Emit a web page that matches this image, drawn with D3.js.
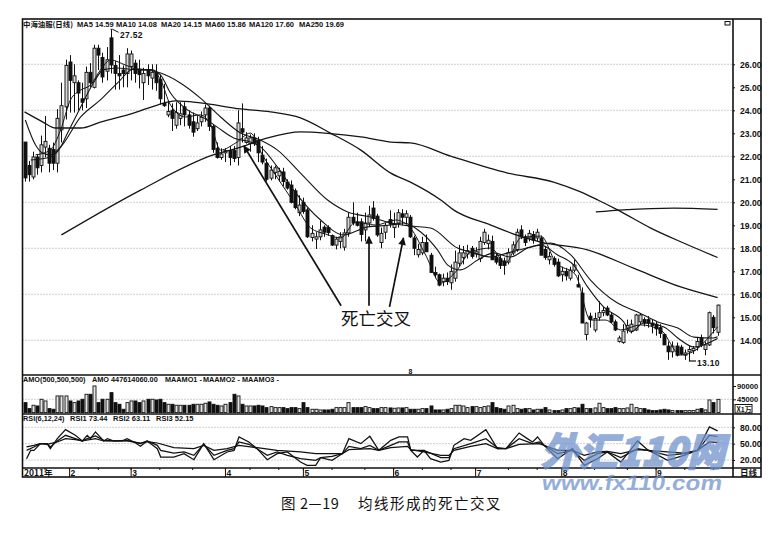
<!DOCTYPE html>
<html><head><meta charset="utf-8">
<script src="https://cdn.jsdelivr.net/npm/d3@7"></script>
<style>html,body{margin:0;padding:0;background:#fff}svg{display:block}
text{font-family:"Liberation Sans",Arial,sans-serif;fill:#111}</style></head><body>
<svg id="c" width="782" height="543"></svg>
<script>
const stockName="中海油服(日线)";
const maLabels=["MA5 14.59","MA10 14.08","MA20 14.15","MA60 15.86","MA120 17.60","MA250 19.69"];
const opens=[22.62,21.6,21.1,21.97,21.6,22.4,22.35,22.3,21.7,23.15,
24.15,26.1,25.2,25.2,24.5,24.5,25.65,25,26.7,26.3,
25.7,27.15,25.95,25.6,25.75,25.6,25.9,26.05,25.75,25.2,
25.75,25.4,25.65,25.35,24.3,23.8,24,23.35,23.65,24.15,
23.8,23.5,23.2,23.5,23.8,24.1,23.3,22.35,21.95,22.15,
22.25,22.25,21.95,23.2,22.6,22.55,22.8,22.7,22.05,21.7,
21.05,21.3,21.15,21.32,20.88,20.75,20.5,19.55,20,19.67,
18.47,18.4,18.5,18.92,18.9,18.55,18.14,18.3,18.05,18.67,
19.35,19.15,19.15,18.8,19.1,19.75,19.4,18.25,18.7,19.25,
18.9,19.1,19.5,19.35,19.35,18.45,17.72,17.8,18.25,17.7,
16.95,16.85,16.55,16.7,16.5,16.7,17.35,17.6,17.75,18,
17.75,17.55,18.25,18.2,18.3,17.6,17.55,17.45,17.4,17.8,
17.95,18.8,18.5,18.45,18.6,18.45,18.45,17.95,17.5,17.55,
17.4,16.85,17,16.7,17.05,16.42,16.05,14.25,15.05,14.45,
15,15.2,15.4,15.1,14.8,13.95,13.9,14.45,14.4,14.45,
14.8,14.9,14.9,14.75,14.7,14.55,14.25,13.75,13.5,13.75,
13.7,13.35,13.5,13.55,13.7,14.1,13.6,13.8,15,14.35];
const highs=[22.62,21.8,22.2,22.1,22.9,23.75,22.5,22.6,24.05,25.2,
26.2,26.4,26,25.3,25.2,25.9,26.05,26.85,26.85,26.5,
26.75,27.52,26.15,26.4,25.95,26.7,26.6,26.2,26.2,25.85,
26,26,26,25.55,25.15,24.4,24.3,24.35,24.35,24.35,
24,23.9,23.75,23.95,24.25,24.2,23.4,22.6,22.35,22.35,
22.45,22.45,24,24.3,23.05,22.95,23,22.85,22.45,21.9,
21.6,21.6,21.5,21.5,21,20.95,20.6,20.3,20.2,19.75,
19,18.7,19.2,19,19,18.6,18.5,18.7,18.85,19.55,
20,19.55,19.3,19.55,19.85,20.05,19.5,18.9,19.1,19.65,
19.55,19.7,19.7,19.65,19.45,18.55,18.2,18.5,18.6,17.8,
17.2,16.9,16.9,16.95,17.3,17.9,18.15,18.1,18.15,18.1,
18.05,18.5,18.85,18.6,18.55,17.75,17.7,17.6,18,18.3,
18.85,19,18.6,18.8,18.75,18.85,18.55,18.1,17.85,17.65,
17.55,17.2,17.15,17.2,17.5,16.85,16.3,14.8,15.2,15.2,
15.7,15.45,15.5,15.2,14.9,14.2,14.7,14.9,14.9,15.15,
15.15,15,15.05,14.9,14.8,14.7,14.3,13.95,13.95,13.9,
13.8,13.6,13.75,13.75,14.1,14.25,13.95,15.25,15.1,15.55];
const lows=[20.9,20.9,21,21.2,21.3,21.95,21.3,21.4,21.3,22.6,
23.6,23.9,23.9,24,24,24.1,25,24.95,25.75,25.2,
25.3,25.6,24.9,24.9,25,25,25.3,25.2,24.95,24.45,
25.1,24.9,24.85,24.25,24.15,23.7,23.1,23.2,23.35,23.3,
23.2,22.85,23.1,23.3,23.5,23.1,22.15,21.9,21.85,21.75,
21.6,21.75,21.6,22.6,22.55,22.2,22.45,21.75,21.65,20.9,
20.95,21,20.9,20.7,20.55,19.95,19.7,19.4,19.5,18.45,
18.3,17.97,18.35,18.5,18.55,18.1,17.95,18,17.9,18.5,
19,18.95,18.3,18.3,18.95,19.2,18.5,18,18.4,18.9,
18.45,18.9,19,19.1,18.45,17.7,17.6,17.7,17.85,16.95,
16.7,16.35,16.35,16.4,16.2,16.55,17.2,17.3,17.55,17.55,
17.6,17.4,18.15,17.95,17.5,17.3,17.1,16.85,17.3,17.7,
17.85,18.4,18.1,18.3,18.2,18.3,17.7,17.5,17.3,17.2,
16.75,16.55,16.6,16.6,16.95,16.3,14.75,14,14.55,14.35,
14.85,15.05,15.05,14.75,14.4,13.9,13.85,14.3,14.3,14.4,
14.7,14.6,14.55,14.3,14.2,14.1,13.8,13.15,13.25,13.3,
13.35,13.15,13.1,13.4,13.55,13.7,13.35,13.75,14.3,14.2];
const closes=[21.06,21.2,21.97,21.5,22.5,22.65,21.7,21.7,23.65,24.2,
25.95,25.3,25.5,24.75,24.35,25.65,25.2,26.7,26.4,25.45,
26.2,25.97,25.6,25.5,25.6,26.45,26.45,25.6,25.55,25.6,
25.5,25.65,25.2,24.5,24.2,23.95,23.65,23.9,23.85,23.8,
23.35,23.05,23.45,23.7,24.1,23.3,22.3,21.95,22.1,22.25,
21.95,21.9,23.45,23.05,22.8,22.8,22.55,22.15,21.75,21,
21.4,21.5,21.35,20.9,20.62,20,19.77,19.88,19.6,18.5,
18.65,18.5,18.8,18.7,18.68,18.14,18.4,18.5,18.67,19.35,
19.1,19,18.6,19.1,19.45,19.3,18.58,18.65,19,19.05,
19.05,19.55,19.35,19.5,18.5,18,17.95,18.25,17.85,16.95,
16.85,16.4,16.7,16.55,17,17.4,17.8,17.8,17.9,17.65,
17.85,18.3,18.7,18.35,17.5,17.4,17.25,17.25,17.8,18.15,
18.7,18.5,18.25,18.65,18.35,18.7,17.7,17.6,17.65,17.3,
16.8,17,16.8,17.05,17.27,16.32,14.75,14.75,14.9,14.95,
15.2,15.3,15.1,14.8,14.45,14.1,14.4,14.65,14.7,15.1,
15.1,14.75,14.75,14.65,14.5,14.3,13.8,13.5,13.75,13.35,
13.4,13.45,13.6,13.65,13.95,13.8,13.8,15.2,14.55,15.53];
const volumes=[33800,13500,24800,22500,45100,39400,13500,11300,56400,56400,
56400,39400,33800,39400,45100,62000,62000,90200,33800,45100,
45100,67600,33800,28200,11300,33800,39400,39400,33800,39400,
45100,45100,42800,45100,33800,28200,28200,24800,24800,24800,
24800,28200,28200,28200,31600,36100,28200,24800,22500,28200,
33800,62000,56400,28200,22500,22500,22500,24800,22500,16900,
20300,16900,16900,16900,13500,16900,16900,13500,33800,16900,
11300,11300,9000,9000,9000,11300,16900,16900,16900,33800,
16900,16900,16900,20300,16900,13500,13500,16900,16900,15800,
14700,15800,15800,16900,11300,11300,11300,13500,13500,22500,
9000,9000,9000,11300,13500,24800,24800,22500,16900,20300,
20300,16900,20300,22500,33800,16900,13500,11300,22500,24800,
13500,11300,13500,13500,9000,11300,11300,16900,9000,6800,
6800,9000,13500,13500,16900,15800,28200,13500,13500,15800,
31600,16900,13500,13500,16900,13500,13500,15800,28200,16900,
13500,13500,9000,6800,6800,9000,11300,9000,6800,6800,
6800,6800,6800,6800,11300,13500,9000,42800,33800,44761];

const ma5Days=[2.7,6.3,8.8,11.2,13.7,16.1,18.5,21,24.6,28.3,30.7,33.2,35.6,39.3,42.9,45.4,47.8,51.5,55.1,58,61.2,66.1,69.8,73.4,77.1,80.7,85.6,90.5,94.1,97.8,101.5,105.1,108.8,113.7,117.3,121,125.9,129.5,134.4,138,141.7,145.4,150.2,155.1,160,163.7,167.3,169];
const ma5Vals=[22.06,22.27,23.14,24.45,24.88,25.1,25.75,26.19,25.97,25.75,25.75,25.32,24.23,23.71,23.8,23.36,22.27,22.58,23.01,22.06,21.19,19.88,18.88,18.62,18.45,19.14,19.01,19.23,18.88,17.71,16.49,16.97,17.84,18.01,17.36,18.45,18.53,17.4,16.84,14.88,14.88,14.45,14.67,14.45,13.36,13.58,14.23,14.59];
const ma10Days=[1.5,6.3,8.8,10.5,13.7,16.8,19.3,22.7,26.6,30.7,33.2,35.6,39.8,43.7,47,51,55.1,57.6,61.7,65.6,72.2,77.8,83.7,89.3,92.4,96.6,100.7,103.2,106.3,110.5,114.4,118.5,122.7,125.9,130,133.9,137.3,141.2,146.1,147.8,151,155.9,159.3,163.2,169];
const ma10Vals=[21.84,21.97,22.4,23.01,24.14,25.19,25.77,25.84,25.77,25.77,25.53,24.75,24.01,23.67,23.27,22.8,22.62,22.4,21.53,20.53,19.23,18.58,18.93,19.01,19.1,18.71,17.93,17.27,17.06,17.49,17.8,17.62,18.01,18.14,17.71,17.27,16.32,15.45,14.8,14.36,14.75,14.58,14.1,13.71,14.08];
const ma20Days=[0.2,2.7,4.4,6.3,8.8,13.7,18.5,22.7,26.6,30,33.2,38,42.9,47.8,52.7,57.6,61.7,67.3,73.9,78.8,84.4,89.3,94.1,99,105.6,109.5,113.7,117.8,123.4,128.3,133.2,138,144.6,149.5,154.4,159.3,163.2,168,169];
const ma20Vals=[23.58,22.49,22.14,22.06,22.4,23.71,24.45,25.19,25.8,25.75,25.62,25.19,24.53,23.71,23.01,22.7,22.27,21.27,20.1,19.58,19.36,19.1,18.97,18.88,18.01,17.8,17.62,17.8,18.06,18.23,17.71,16.62,15.62,15.23,14.8,14.53,14.14,14.1,14.15];
const ma60Days=[0,4.4,7.6,13.7,18.5,26.6,32.4,36.8,42.9,52.7,60,67.3,74.6,82,89.3,94.1,101.5,104.6,113.7,119.3,125.9,137.3,148.5,160,169];
const ma60Vals=[23.93,23.5,23.23,23.23,23.49,23.88,24.23,24.41,24.32,24.06,23.93,23.67,23.01,22.27,21.27,20.88,20.1,19.67,19.01,18.62,18.27,17.93,17.14,16.32,15.86];
const ma120Days=[9,28.3,46,52.7,59.3,67.3,73.9,82,89.3,94.1,103.9,117.8,129,135.6,139.8,144.6,152.7,160.7,169];
const ma120Vals=[18.58,20.53,22.06,22.4,22.8,23.06,23,22.84,22.62,22.58,22.01,21.27,20.88,20.45,20.1,19.67,18.88,18.23,17.6];
const ma250Days=[139.3,146,158.3,169];
const ma250Vals=[19.58,19.67,19.75,19.69];

const rsi1Days=[0.5,1.5,2.3,3.9,5.5,6.3,8,10,12.4,14.1,15.3,16.1,17.3,19.3,20.2,21.8,23.8,25,26.7,28.3,29.9,32.4,33.2,36.4,38.9,41.3,43.7,46.2,49.4,51.1,52.3,54.7,56.7,59.2,61.6,64.1,67.3,68.9,71,72.2,75,77.5,79.1,82,84.2,86.4,89.3,91.3,93.4,94.2,95.8,97.4,99,101.5,103.5,104.7,107.2,108.8,112.5,115.3,117.4,120.6,122.6,123.9,125.1,126.7,130,133.6,136.5,139.7,142.1,145.4,149.5,151.9,156.8,160.8,164.1,167,169];
const rsi1Vals=[22.4,37.7,37.7,50,50,40.8,59.2,75.7,65.3,54.9,65.3,59.2,71.5,54.9,59.2,54.9,54.9,59.2,53.1,45.1,54.9,40.8,25.5,25.5,31.6,20.6,50,20.6,34.7,37.7,62.3,53.1,40.8,20.6,31.6,34.7,16.3,10.2,10.2,24.3,19.3,31.6,59.2,50,63.5,37.7,56,62.3,62.3,37.7,25.5,37.7,22.4,16.3,19.3,46.9,59.2,56.1,75.7,40.8,40.8,69.6,59.2,53.1,62.3,46.9,22.4,40.8,10.2,22.4,34.7,16.3,54.9,39,19.3,28.5,37.7,80.7,73.44];
const rsi2Days=[0.5,2.3,3.9,5.5,6.3,8,10,12.4,14.1,15.3,17.3,19.3,21.8,25,28.3,29.9,32.4,33.2,36.4,38.9,41.3,43.7,46.2,49.4,51.1,52.3,54.7,56.7,59.2,61.6,64.1,67.3,71,72.2,75,77.5,79.1,82,84.2,86.4,89.3,91.3,93.4,94.2,97.4,101.5,103.5,104.7,108.8,112.5,115.3,117.4,120.6,123.9,125.5,126.7,130,133.6,136.5,139.7,142.1,145.4,149.5,151.9,156.8,160.8,164.1,167,169];
const rsi2Vals=[37.7,43.9,50,50,43.9,54.9,65.3,59.2,54.9,59.2,64.1,56.1,54.9,56.1,50,54.9,46.9,37.7,32.8,34.7,28.5,48.8,28.5,37.7,40.8,53.1,48.8,40.8,28.5,34.7,28.5,22.4,19.3,24.3,26.7,31.6,45.1,40.8,46.9,37.7,46.9,53.1,53.1,37.7,37.7,24.3,24.3,40.8,50,59.2,42.6,40.8,59.2,50,53.1,46.9,31.6,37.7,19.3,31.6,34.7,24.3,40.8,37.7,28.5,31.6,37.7,65.3,63.11];
const rsi3Days=[0.5,2.3,3.9,5.5,8,10,12.4,14.1,17.3,19.3,21.8,25,28.3,29.9,32.4,36.4,41.3,43.7,46.2,49.4,52.3,56.7,61.6,67.3,71,77.5,79.1,84.2,86.4,89.3,93.4,94.2,97.4,101.5,103.5,104.7,108.8,112.5,115.3,117.4,120.6,125.5,130,133.6,136.5,139.7,142.1,145.4,149.5,156.8,160.8,164.1,167,169];
const rsi3Vals=[43.9,46.9,50,48.8,53.1,59.2,57.4,54.9,59.2,54.9,54.9,54.9,51.2,53.7,51.2,42.6,40.8,46.9,37.7,40.8,46.9,42.6,37.7,34.7,31.6,31.6,39,40.8,37.7,42.6,45.1,39,34.7,28.5,28.5,37.7,45.1,50,40.8,40.8,48.8,50,37.7,37.7,28.5,34.7,35.9,31.6,39,34.7,32.8,37.7,53.1,52.15];

const priceTicks=[26,25,24,23,22,21,20,19,18,17,16,15,14];
const gridPrices=[26,24,22,20,18,16,14];
const volTicks=[90000,45000];
const rsiTicks=[80,50,20];
const monthDays=[11,26,49,68,90,110,131,154];
const monthLabels=["2","3","4","5","6","7","8","9"];
const dateTickDays=[5,11,18,26,33,41,49,55,62,68,75,83,90,97,104,110,118,125,131,139,147,154,161,168];
const arrowTails=[[77.2,15.5],[84,15.5],[89,15.45]];
const arrowHeads=[[53.5,22.45],[84,18.5],[92.4,18.45]];

const L=22.5,R=761,AX=733,T=19,M1=375,M2=414,M3=468,B=477;
const svg=d3.select("#c");
const x=d3.scaleLinear().domain([0,169]).range([24.5,717.6]);
const y=d3.scaleLinear().domain([26,14]).range([64.3,340.3]);
const yV=d3.scaleLinear().domain([0,90000]).range([412.6,386]);
const yR=d3.scaleLinear().domain([80,20]).range([427.3,460]);
const days=d3.range(opens.length);
const isUp=i=>closes[i]>=opens[i];
const px=v=>Math.round(v)+.5;

// grid
const g=svg.append("g").attr("stroke","#777").attr("stroke-width",.7).attr("stroke-dasharray","1 2");
gridPrices.forEach(p=>g.append("line").attr("x1",L).attr("x2",AX).attr("y1",y(p)).attr("y2",y(p)));
g.append("line").attr("x1",L).attr("x2",AX).attr("y1",yV(45000)).attr("y2",yV(45000));
rsiTicks.forEach(p=>g.append("line").attr("x1",L).attr("x2",AX).attr("y1",yR(p)).attr("y2",yR(p)));

// candles
const cg=svg.append("g");
cg.selectAll("line.w").data(days).join("line").attr("x1",i=>px(x(i))).attr("x2",i=>px(x(i)))
 .attr("y1",i=>y(highs[i])).attr("y2",i=>y(lows[i])).attr("stroke","#111").attr("stroke-width",1);
cg.selectAll("rect.b").data(days).join("rect")
 .attr("x",i=>px(x(i))-1.5).attr("width",3)
 .attr("y",i=>y(Math.max(opens[i],closes[i])))
 .attr("height",i=>Math.max(1,Math.abs(y(opens[i])-y(closes[i]))))
 .attr("fill",i=>isUp(i)?"#d8d8d8":"#111").attr("stroke","#111").attr("stroke-width",.9);

// moving averages
const line=(yy,curve)=>d3.line().x(d=>x(d[0])).y(d=>yy(d[1])).curve(curve);
[[ma5Days,ma5Vals,1],[ma10Days,ma10Vals,1.1],[ma20Days,ma20Vals,1.1],[ma60Days,ma60Vals,1.3],[ma120Days,ma120Vals,1.3],[ma250Days,ma250Vals,1.3]]
.forEach(([d,v,w])=>svg.append("path").attr("d",line(y,d3.curveMonotoneX)(d.map((a,i)=>[a,v[i]])))
  .attr("fill","none").attr("stroke","#151515").attr("stroke-width",w));

// volume
svg.append("g").selectAll("rect").data(days).join("rect")
 .attr("x",i=>px(x(i))-1.5).attr("width",3)
 .attr("y",i=>yV(volumes[i])).attr("height",i=>yV(0)-yV(volumes[i]))
 .attr("fill",i=>isUp(i)?"#e4e4e4":"#111").attr("stroke","#111").attr("stroke-width",.9);

// rsi
[[rsi1Days,rsi1Vals],[rsi2Days,rsi2Vals],[rsi3Days,rsi3Vals]].forEach(([d,v])=>
 svg.append("path").attr("d",line(yR,d3.curveLinear)(d.map((a,i)=>[a,v[i]])))
  .attr("fill","none").attr("stroke","#111").attr("stroke-width",1.25));

// frame
const fr=svg.append("g").attr("stroke","#111").attr("fill","none");
fr.append("rect").attr("x",L).attr("y",T).attr("width",R-L).attr("height",B-T).attr("stroke-width",1.6);
fr.append("line").attr("x1",AX).attr("x2",AX).attr("y1",T).attr("y2",B).attr("stroke-width",1.6);
[M1,M2,M3].forEach(v=>fr.append("line").attr("x1",L).attr("x2",R).attr("y1",v).attr("y2",v).attr("stroke-width",1.3));

// axes
const axisStyle=(s,fs)=>{s.select(".domain").remove();s.selectAll("line").attr("stroke","#111");
  s.selectAll("text").attr("font-size",fs).attr("font-weight",700).style("font-family",'"Liberation Sans"');};
svg.append("g").attr("transform",`translate(${AX},0)`).call(d3.axisRight(y).tickValues(priceTicks).tickSize(2).tickPadding(5).tickFormat(d3.format(".2f"))).call(axisStyle,8.6);
svg.append("g").attr("transform",`translate(${AX},0)`).call(d3.axisRight(yV).tickValues(volTicks).tickSize(3).tickPadding(1).tickFormat(d3.format("d"))).call(axisStyle,7.6);
svg.append("g").attr("transform",`translate(${AX},0)`).call(d3.axisRight(yR).tickValues(rsiTicks).tickSize(2).tickPadding(5).tickFormat(d3.format(".2f"))).call(axisStyle,8.6);

const t=(s,xx,yy,fs,o={})=>svg.append("text").attr("x",xx).attr("y",yy).attr("font-size",fs).attr("font-weight",o.w||700)
  .attr("text-anchor",o.a||"start").style("font-family",o.f||'"Liberation Sans"').style("letter-spacing",o.ls||null).text(s);
const cjk='"Noto Sans CJK SC"';

// header
t(stockName,23,27,7.4,{f:cjk});
const maX=[77,116,161,205,249,299];
maLabels.forEach((s,i)=>t(s,maX[i],27,7.5,{}));
t("27.52",120,38,8.5,{ls:"0.3px"});
svg.append("path").attr("d",d3.line()([[x(21),y(27.52)],[x(21)+2,y(27.52)],[x(21)+8,y(27.52)+3]])).attr("fill","none").attr("stroke","#111");
t("13.10",697,366,8.5,{ls:"0.3px"});
svg.append("path").attr("d",d3.line()([[x(162),y(13.1)],[696,y(13.1)]])).attr("fill","none").attr("stroke","#111").attr("stroke-width",1.2);
svg.append("rect").attr("x",725).attr("y",21.5).attr("width",5).attr("height",3.5).attr("fill","none").attr("stroke","#111");
t("8",408.5,374,7);

t("AMO(500,500,500)",23,382,7.3);
t("AMO 447614060.00",92,382,7.3);
t("MAAMO1 -",165,382,7.3);t("MAAMO2 -",203,382,7.3);t("MAAMO3 -",242,382,7.3);
t("RSI(6,12,24)",23,421,7.3);
t("RSI1 73.44",70,421,7.5);t("RSI2 63.11",113,421,7.5);t("RSI3 52.15",156,421,7.5);

// x1w box
svg.append("rect").attr("x",735).attr("y",404.5).attr("width",17).attr("height",8.5).attr("fill","#fff").attr("stroke","#111");
t("X1万",736.5,411.5,6.8,{f:cjk});

// date bar
svg.append("g").selectAll("line").data(dateTickDays).join("line").attr("x1",d=>x(d)).attr("x2",d=>x(d))
 .attr("y1",M3).attr("y2",M3+2).attr("stroke","#111");
t("2011年",24,476,8.5,{f:cjk});
monthDays.forEach((d,i)=>{svg.append("line").attr("x1",x(d)).attr("x2",x(d)).attr("y1",M3).attr("y2",B).attr("stroke","#111");
  t(monthLabels[i],x(d)+1,476,8.5);});
t("日线",740,476,8.5,{f:cjk});

// arrows
const defs=svg.append("defs");
defs.append("marker").attr("id","ah").attr("viewBox","0 0 10 10").attr("refX",9).attr("refY",5)
 .attr("markerWidth",5.5).attr("markerHeight",4.5).attr("orient","auto")
 .append("path").attr("d","M0,0L10,5L0,10Z").attr("fill","#111");
arrowTails.forEach((a,i)=>svg.append("line").attr("x1",x(a[0])).attr("y1",y(a[1])).attr("x2",x(arrowHeads[i][0])).attr("y2",y(arrowHeads[i][1]))
 .attr("stroke","#111").attr("stroke-width",1.7).attr("marker-end","url(#ah)"));
t("死亡交叉",341,325,17.5,{f:cjk,w:400});

// caption
t("图 2—19",281,509,14.5,{f:cjk,w:400,ls:"0.6px"});
t("均线形成的死亡交叉",358,509,14.5,{f:cjk,w:400,ls:"1.5px"});

// watermark
const wm=svg.append("g").attr("opacity",.72);
wm.append("text").attr("transform","translate(541,466) skewX(-14)").attr("font-size",39).attr("font-weight",900)
 .attr("textLength",184).attr("lengthAdjust","spacingAndGlyphs").style("font-family",cjk).style("fill","#6d90cb")
 .style("stroke","#6d90cb").style("stroke-width","1.4px").text("外汇110网");
wm.append("text").attr("transform","translate(541,490) skewX(-10)").attr("font-size",21).attr("font-weight",700)
 .attr("textLength",180).attr("lengthAdjust","spacingAndGlyphs").style("fill","#6d90cb").text("www.fx110.com");
</script></body></html>
